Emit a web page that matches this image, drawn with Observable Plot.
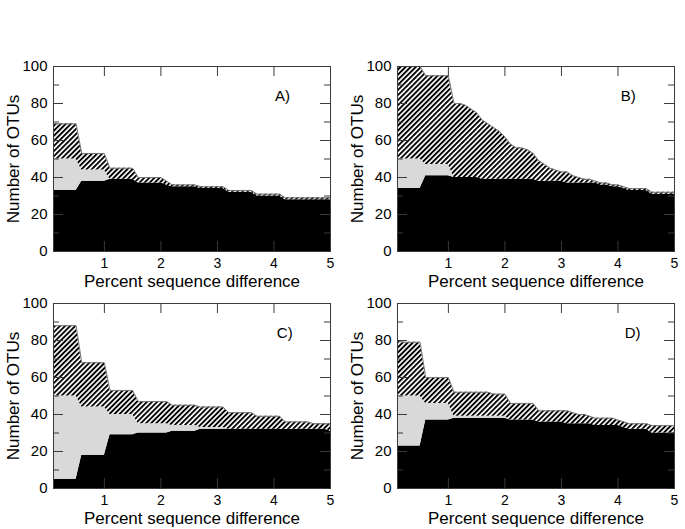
<!DOCTYPE html>
<html><head><meta charset="utf-8">
<script src="https://cdn.jsdelivr.net/npm/d3@7"></script>
<script src="https://cdn.jsdelivr.net/npm/@observablehq/plot@0.6"></script>
<style>
body{margin:0;background:#fff;}
#wrap{position:relative;width:685px;height:529px;font-family:"Liberation Sans",Arial,sans-serif;}
.panel{position:absolute;}
</style></head><body>
<svg width="0" height="0" style="position:absolute">
<defs><pattern id="hatch" patternUnits="userSpaceOnUse" width="3.6" height="3.6" patternTransform="rotate(45)">
<rect width="3.6" height="3.6" fill="#fff"/><rect width="1.9" height="3.6" fill="#000"/></pattern></defs></svg>
<div id="wrap"></div>
<script>
// Percent sequence difference (x grid)
const pct = [0.1,0.2,0.3,0.4,0.5,0.6,0.7,0.8,0.9,1.0,
             1.1,1.2,1.3,1.4,1.5,1.6,1.7,1.8,1.9,2.0,
             2.1,2.2,2.3,2.4,2.5,2.6,2.7,2.8,2.9,3.0,
             3.1,3.2,3.3,3.4,3.5,3.6,3.7,3.8,3.9,4.0,
             4.1,4.2,4.3,4.4,4.5,4.6,4.7,4.8,4.9,5.0];

// Panel A: top of black, top of grey, top of hatched (total)
const blackA = [33,33,33,33,33, 38,38,38,38,38, 39,39,39,39,39, 37,37,37,37,37,
                36,35,35,35,35, 35,34,34,34,34, 34,32,32,32,32, 32,30,30,30,30,
                30,28,28,28,28, 28,28,28,28,28];
const greyA  = [50,50,50,50,50, 44,44,44,44,44, 39,39,39,39,39, 37,37,37,37,37,
                36,35,35,35,35, 35,34,34,34,34, 34,32,32,32,32, 32,30,30,30,30,
                30,28,28,28,28, 28,28,28,28,28];
const totalA = [69,69,69,69,69, 53,53,53,53,53, 45,45,45,45,45, 40,40,40,40,40,
                38,36,36,36,36, 36,35,35,35,35, 35,33,33,33,33, 33,31,31,31,31,
                31,29,29,29,29, 29,29,29,29,29];

// Panel B
const blackB = [34,34,34,34,34, 41,41,41,41,41, 40,40,40,40,40, 39,39,39,39,39,
                39,39,39,39,39, 38,38,38,38,38, 37,37,37,37,37, 37,36,36,35,35,
                34,33,33,33,33, 31,31,31,31,31];
const greyB  = [50,50,50,50,50, 47,47,47,47,47, 40,40,40,40,40, 39,39,39,39,39,
                39,39,39,39,39, 38,38,38,38,38, 37,37,37,37,37, 37,36,36,35,35,
                34,33,33,33,33, 31,31,31,31,31];
const totalB = [100,100,100,100,100, 95,95,95,95,95, 80,80,79,77,75, 71,69,67,65,62,
                58,56,56,55,53, 49,47,45,44,43, 43,41,40,39,39, 38,37,37,36,36,
                35,34,34,34,34, 32,32,32,32,32];

// Panel C
const blackC = [5,5,5,5,5, 18,18,18,18,18, 29,29,29,29,29, 30,30,30,30,30,
                30,31,31,31,31, 31,32,32,32,32, 32,32,32,32,32, 32,32,32,32,32,
                32,32,32,32,32, 32,32,32,32,31];
const greyC  = [50,50,50,50,50, 44,44,44,44,44, 40,40,40,40,40, 35,35,35,35,35,
                35,34,34,34,34, 34,33,33,33,33, 33,32,32,32,32, 32,32,32,32,32,
                32,32,32,32,32, 32,32,32,32,31];
const totalC = [88,88,88,88,88, 68,68,68,68,68, 53,53,53,53,53, 47,47,47,47,47,
                47,45,45,45,45, 45,44,44,44,44, 44,41,41,41,41, 41,39,39,39,39,
                39,36,36,36,36, 36,35,35,35,35];

// Panel D
const blackD = [23,23,23,23,23, 37,37,37,37,37, 38,38,38,38,38, 38,38,38,38,38,
                37,37,37,37,37, 36,36,36,36,36, 35,35,35,35,35, 34,34,34,34,34,
                33,32,32,32,32, 30,30,30,30,30];
const greyD  = [50,50,50,50,50, 46,46,46,46,46, 39,39,39,39,39, 39,39,39,39,39,
                37,37,37,37,37, 36,36,36,36,36, 35,35,35,35,35, 34,34,34,34,34,
                33,32,32,32,32, 30,30,30,30,30];
const totalD = [80,79,79,79,79, 60,60,60,60,60, 52,52,52,52,52, 52,52,51,51,51,
                46,46,46,46,46, 42,42,42,42,42, 42,41,40,40,39, 38,38,38,38,37,
                36,35,35,35,35, 34,34,34,34,34];

const panelLabels = ["A)", "B)", "C)", "D)"];
const xTickValues = [1, 2, 3, 4, 5];
const yTickValues = [0, 20, 40, 60, 80, 100];
const yMajorInner = [20, 40, 60, 80];
const yMinorInner = [10, 30, 50, 70, 90];
const xLabel = "Percent sequence difference";
const yLabel = "Number of OTUs";

const W = 340, H = 235, ML = 53, MR = 10, MT = 10, MB = 40;
const PW = W - ML - MR, PH = H - MT - MB;
const FONT = '"Liberation Sans", Arial, Helvetica, sans-serif';
const ink = "#3a3a3a";

function panel(label, black, grey, total, left, top, labelX) {
  const rows = pct.map((x, i) => ({x, black: black[i], grey: grey[i], total: total[i]}));
  const chart = Plot.plot({
    width: W, height: H,
    marginLeft: ML, marginRight: MR, marginTop: MT, marginBottom: MB,
    x: {domain: [0.1, 5], axis: null},
    y: {domain: [0, 100], axis: null},
    style: {fontFamily: FONT, fontSize: "14px", color: "#000", background: "transparent", overflow: "visible"},
    marks: [
      Plot.areaY(rows, {x: "x", y1: 0, y2: "black", fill: "#000", curve: "linear"}),
      Plot.areaY(rows, {x: "x", y1: "black", y2: "grey", fill: "#d9d9d9", curve: "linear"}),
      Plot.areaY(rows, {x: "x", y1: "grey", y2: "total", fill: "url(#hatch)", curve: "linear"}),
      Plot.line(rows, {x: "x", y: "total", stroke: "#777", strokeWidth: 1}),
      // inward ticks
      Plot.tickX(xTickValues.slice(0, 4), {x: d => d, insetBottom: PH - 10, stroke: ink}),
      Plot.tickX(xTickValues.slice(0, 4), {x: d => d, insetTop: PH - 10, stroke: ink}),
      Plot.tickY(yMajorInner, {y: d => d, insetRight: PW - 10, stroke: ink}),
      Plot.tickY(yMinorInner, {y: d => d, insetRight: PW - 6, stroke: ink}),
      Plot.tickY(yMajorInner, {y: d => d, insetLeft: PW - 10, stroke: ink}),
      Plot.tickY(yMinorInner, {y: d => d, insetLeft: PW - 6, stroke: ink}),
      Plot.frame({stroke: ink}),
      // tick labels
      Plot.text(xTickValues, {x: d => d, frameAnchor: "bottom", dy: 12, lineAnchor: "middle", textAnchor: "middle", text: d => String(d), fontSize: 14, fill: "#000"}),
      Plot.text(yTickValues, {y: d => d, frameAnchor: "left", dx: -6, textAnchor: "end", lineAnchor: "middle", text: d => String(d), fontSize: 15, fill: "#000"}),
      // axis titles
      Plot.text([xLabel], {frameAnchor: "bottom", dy: 30, lineAnchor: "middle", textAnchor: "middle", fontSize: 17, fill: "#000"}),
      Plot.text([yLabel], {frameAnchor: "left", dx: -40, rotate: -90, textAnchor: "middle", lineAnchor: "middle", fontSize: 17, fill: "#000"}),
      // panel letter
      Plot.text([label], {x: labelX, y: 84, textAnchor: "start", lineAnchor: "middle", fontSize: 15, fill: "#000"})
    ]
  });
  chart.classList.add("panel");
  chart.style.left = left + "px";
  chart.style.top = top + "px";
  document.getElementById("wrap").appendChild(chart);
}

panel(panelLabels[0], blackA, greyA, totalA, 0, 56, 4.02);
panel(panelLabels[1], blackB, greyB, totalB, 344, 56, 4.05);
panel(panelLabels[2], blackC, greyC, totalC, 0, 293, 4.05);
panel(panelLabels[3], blackD, greyD, totalD, 344, 293, 4.12);
</script>
</body></html>
